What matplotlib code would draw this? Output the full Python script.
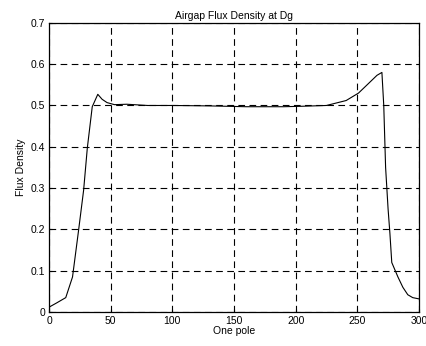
import matplotlib
matplotlib.use("Agg")
import matplotlib.pyplot as plt

# Flux density along one pole
pole_pos = [0, 6, 13.5, 19, 24, 28, 31, 35, 39.5, 43, 47, 53, 63, 80, 100, 130,
            160, 190, 204, 225, 241, 251, 258, 266, 270, 271.5, 273, 275, 276.5,
            278, 283, 287, 291, 295, 300]
flux = [0.012, 0.022, 0.035, 0.085, 0.2, 0.295, 0.397, 0.497, 0.527, 0.515,
        0.507, 0.502, 0.503, 0.5, 0.5, 0.499, 0.497, 0.497, 0.498, 0.5, 0.512,
        0.53, 0.55, 0.573, 0.58, 0.5, 0.35, 0.25, 0.19, 0.12, 0.085, 0.06,
        0.042, 0.035, 0.032]

xticks = [0, 50, 100, 150, 200, 250, 300]
yticks = [0, 0.1, 0.2, 0.3, 0.4, 0.5, 0.6, 0.7]

plt.rcParams['font.family'] = ['Liberation Sans', 'DejaVu Sans']

fig = plt.figure(figsize=(4.27, 3.46), dpi=100)
ax = fig.add_axes([0.115, 0.098, 0.866, 0.836])

ax.plot(pole_pos, flux, color='black', linewidth=0.8)

ax.set_xlim(0, 300)
ax.set_ylim(0, 0.7)
ax.set_xticks(xticks)
ax.set_yticks(yticks)
ax.set_yticklabels(['0', '0.1', '0.2', '0.3', '0.4', '0.5', '0.6', '0.7'])
ax.tick_params(labelsize=7.5, length=2, direction='in', pad=3)
ax.grid(True, color='black', linestyle=(0, (6, 4)), linewidth=0.8)

for s in ax.spines.values():
    s.set_linewidth(0.9)

ax.set_title("Airgap Flux Density at Dg", fontsize=7.5, pad=3)
ax.set_xlabel("One pole", fontsize=7.5, labelpad=0)
ax.set_ylabel("Flux Density", fontsize=7.5, labelpad=3)

fig.savefig("out.png", dpi=100)
